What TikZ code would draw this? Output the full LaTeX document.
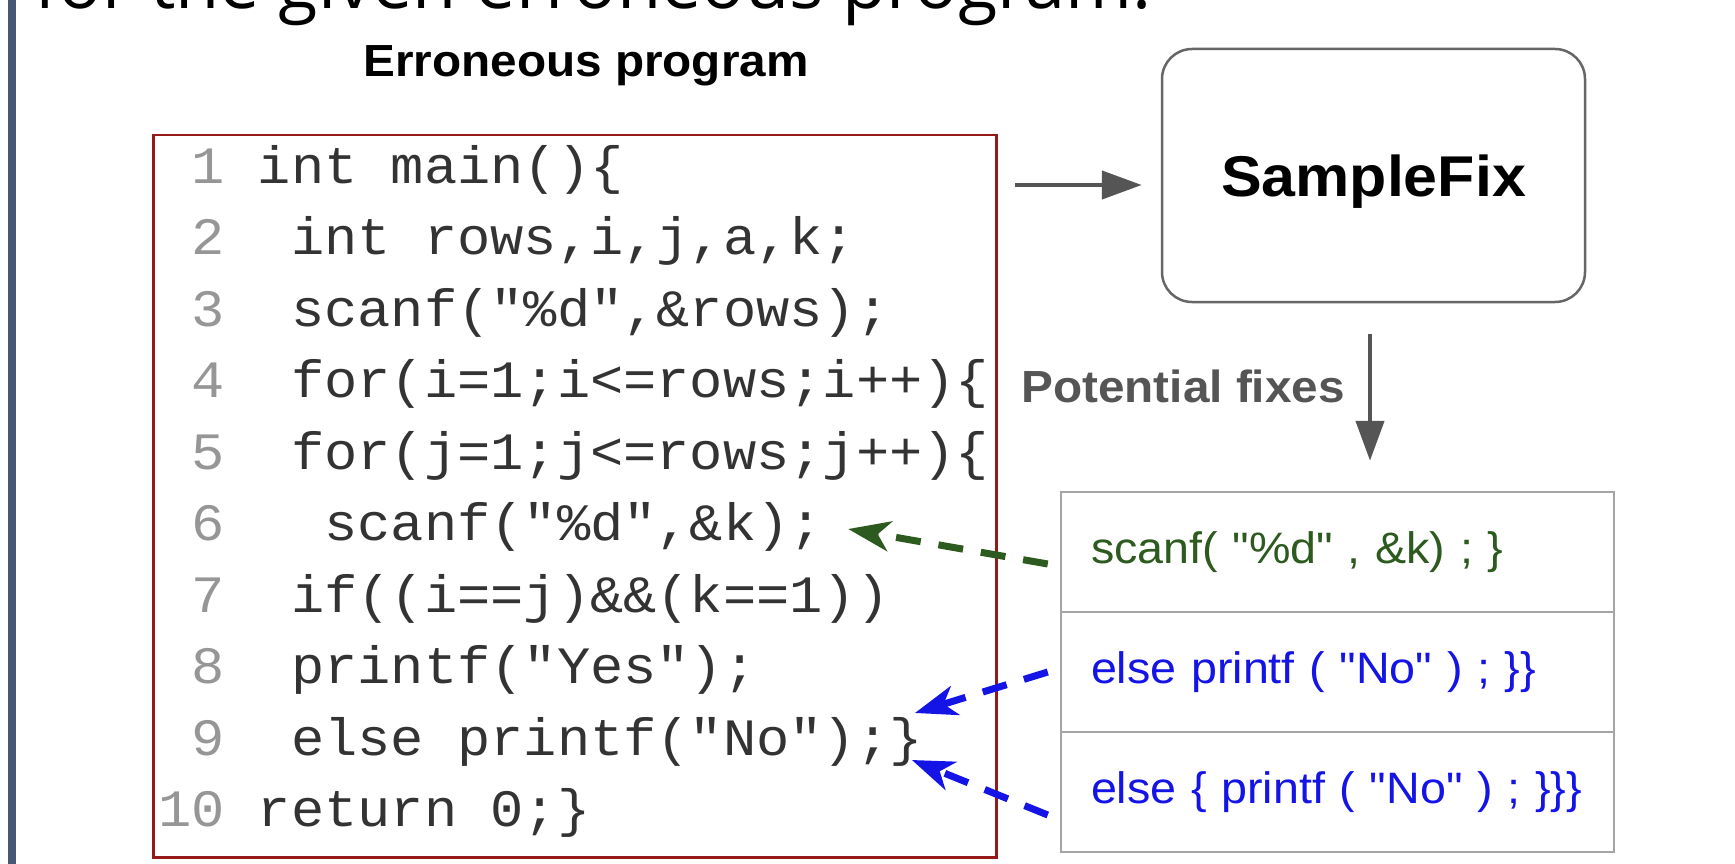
\documentclass[tikz,border=0pt]{standalone}
\usepackage{fontspec}
\usetikzlibrary{arrows.meta,calc}
\setmainfont{Liberation Sans}
\newfontfamily\codefont[FakeStretch=1.055]{Liberation Mono}
\newfontfamily\labelfont[FakeStretch=1.06]{Liberation Sans}
\newfontfamily\titlefont{Open Sans}
\definecolor{barcol}{RGB}{72,88,116}
\definecolor{codecol}{RGB}{51,51,51}
\definecolor{lngray}{RGB}{150,150,150}
\definecolor{boxred}{RGB}{150,25,25}
\definecolor{arrgray}{RGB}{85,85,85}
\definecolor{sfgray}{RGB}{102,102,102}
\definecolor{tabgray}{RGB}{165,165,165}
\definecolor{fixgreen}{RGB}{45,90,30}
\definecolor{fixblue}{RGB}{20,20,230}
\newcommand\codesp{\phantom{0}}
\newcommand\lnum[1]{{\color{lngray}#1}}
\begin{document}
\begin{tikzpicture}[x=1pt,y=-1pt,
  codeline/.style={anchor=base west,inner sep=0pt,text=codecol,
    font=\codefont\fontsize{52.5}{60}\selectfont},
  fixrow/.style={draw=tabgray,line width=2.5pt,minimum width=553pt,minimum height=120pt,
    inner xsep=30pt,text width=493pt,align=left,
    font=\labelfont\fontsize{44}{50}\selectfont},
  grayarrow/.style={draw=arrgray,line width=4.5pt,-{Triangle[length=40pt,width=28pt]}},
  fixarrow/.style={line width=7pt,dash pattern=on 25pt off 18pt,
    -{Stealth[length=42pt,width=30pt,inset=12pt]}}]
\useasboundingbox[fill=white] (0,0) rectangle (1735,864);
\fill[barcol] (7.5,0) rectangle (15.5,864);
\node[anchor=base west,inner sep=0pt,font=\titlefont\fontsize{72}{76}\selectfont] (title) at (34,9) {for the given erroneous program:};
\node[anchor=base,inner sep=0pt,font=\labelfont\bfseries\fontsize{45}{50}\selectfont] (errlab) at (586,77) {Erroneous program};
% code box
\node[draw=boxred,line width=2.5pt,minimum width=843pt,minimum height=722pt,anchor=north west] (code) at (152,134) {};
\node[codeline] (l1) at (158,183) {\lnum{\codesp1}\codesp int main()\{};
\node[codeline] (l2) at (158,254.5) {\lnum{\codesp2}\codesp\codesp int rows,i,j,a,k;};
\node[codeline] (l3) at (158,326) {\lnum{\codesp3}\codesp\codesp scanf("\%d",\&rows);};
\node[codeline] (l4) at (158,397.5) {\lnum{\codesp4}\codesp\codesp for(i=1;i<=rows;i++)\{};
\node[codeline] (l5) at (158,469) {\lnum{\codesp5}\codesp\codesp for(j=1;j<=rows;j++)\{};
\node[codeline] (l6) at (158,540.5) {\lnum{\codesp6}\codesp\codesp\codesp scanf("\%d",\&k);};
\node[codeline] (l7) at (158,612) {\lnum{\codesp7}\codesp\codesp if((i==j)\&\&(k==1))};
\node[codeline] (l8) at (158,683.5) {\lnum{\codesp8}\codesp\codesp printf("Yes");};
\node[codeline] (l9) at (158,755) {\lnum{\codesp9}\codesp\codesp else\codesp printf("No");\}};
\node[codeline] (l10) at (158,826.5) {\lnum{10}\codesp return\codesp 0;\}};
% SampleFix
\node[draw=sfgray,line width=2.5pt,rounded corners=30pt,minimum width=423pt,minimum height=253pt,
  text depth=0pt,font=\labelfont\bfseries\fontsize{57.5}{62}\selectfont] (sf) at (1373.5,175.5) {SampleFix};
\coordinate (inS) at (1015,185);
\draw[grayarrow,shorten >=19pt] (inS) -- (inS -| sf.west);
% fixes table
\node[fixrow,text=fixgreen] (fix1) at (1337.5,552) {scanf( "\%d" , \&k) ; \}};
\node[fixrow,text=fixblue] (fix2) at (1337.5,672) {else printf ( "No" ) ; \}\}};
\node[fixrow,text=fixblue] (fix3) at (1337.5,792) {else \{ printf ( "No" ) ; \}\}\}};
\coordinate (dnS) at (1370,302);
\draw[grayarrow,shorten <=32pt,shorten >=30pt] (dnS) -- (dnS |- fix1.north);
\node[anchor=base east,inner sep=0pt,text=arrgray,font=\labelfont\bfseries\fontsize{45}{50}\selectfont] (pf) at (1345,402) {Potential fixes};
% fix arrows
\draw[fixarrow,fixgreen] ($(fix1.west)+(-12,12)$) -- ($(l6.base east)+(25,-11.5)$);
\draw[fixarrow,fixblue] ($(fix2.west)+(-12,0)$) -- ($(l9.base east)+(-8,-42)$);
\draw[fixarrow,fixblue] ($(fix3.west)+(-12,23)$) -- ($(l9.base east)+(-11,5)$);
\end{tikzpicture}
\end{document}
